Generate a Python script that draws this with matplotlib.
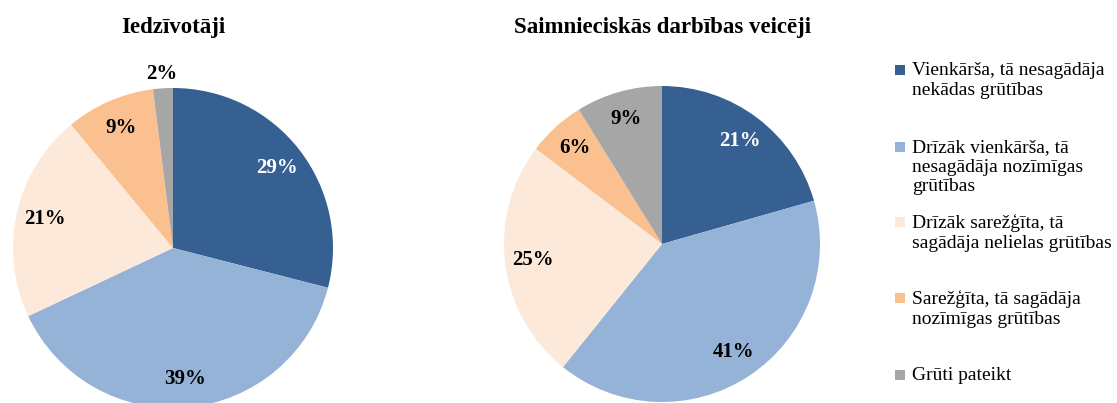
import numpy as np
import matplotlib
matplotlib.use("Agg")
import matplotlib.pyplot as plt
from matplotlib.patches import Rectangle

plt.rcParams['font.family'] = ['Liberation Serif', 'DejaVu Serif']

categories = ["Vienkārša, tā nesagādāja\nnekādas grūtības",
              "Drīzāk vienkārša, tā\nnesagādāja nozīmīgas\ngrūtības",
              "Drīzāk sarežģīta, tā\nsagādāja nelielas grūtības",
              "Sarežģīta, tā sagādāja\nnozīmīgas grūtības",
              "Grūti pateikt"]
titles = ["Iedzīvotāji", "Saimnieciskās darbības veicēji"]
residents = [29, 39, 21, 9, 2]
businesses = [21, 41, 25, 6, 9]
colors = ["#376092", "#95B3D7", "#FDE9D9", "#FAC090", "#A6A6A6"]

W, H = 1117, 403
fig = plt.figure(figsize=(W / 100, H / 100), dpi=100)

def px_axes(cx, cy, r):
    return fig.add_axes([(cx - r) / W, (H - cy - r) / H, 2 * r / W, 2 * r / H])

specs = [(173, 248, 160, residents), (662, 244, 158, businesses)]
axes = []
for (cx, cy, r, vals), title in zip(specs, titles):
    ax = px_axes(cx, cy, r)
    wedges, texts, autotexts = ax.pie(vals, colors=colors, startangle=90, counterclock=False,
                                      autopct='%.0f%%', pctdistance=0.82,
                                      wedgeprops=dict(linewidth=0),
                                      textprops=dict(fontsize=15, fontweight='bold'))
    ax.set_xlim(-1, 1)
    ax.set_ylim(-1, 1)
    ax.set_aspect('equal')
    for i, t in enumerate(autotexts):
        t.set_text(f"{vals[i]}%")
    autotexts[0].set_color('white')
    fig.text(cx / W, 1 - 28 / H, title, ha='center', va='center', fontsize=16.5, fontweight='bold')
    axes.append((ax, autotexts))

# residents: the 2% label sits outside the pie
small = axes[0][1][-1]
x, y = small.get_position()
small.set_position((x / 0.82 * 1.09, y / 0.82 * 1.09))

# legend
leg_y = [70, 147, 222, 298, 375]
for lab, col, y in zip(categories, colors, leg_y):
    fig.patches.append(Rectangle((895 / W, (H - y - 5) / H), 10 / W, 10 / H,
                                 transform=fig.transFigure, facecolor=col, edgecolor='none'))
    fig.text(912 / W, 1 - (y - 8) / H, lab, ha='left', va='top', fontsize=14, linespacing=1.2)

fig.savefig("out.png", dpi=100)
